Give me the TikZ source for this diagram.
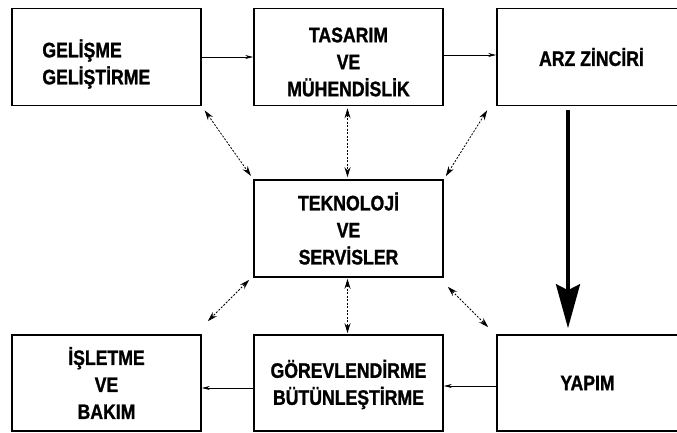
\documentclass[tikz,border=0pt]{standalone}
\usepackage{fontspec}
\setmainfont[FakeStretch = 0.84, BoldFeatures = {FakeBold = 1.2}]{Liberation Sans}
\usetikzlibrary{arrows.meta}
\tikzset{box/.style = {draw, line width = 1.6pt, minimum width = 189pt, minimum height = 97pt, inner sep = 0}}
\tikzset{txt/.style = {align = center, inner sep = 0, font = \bfseries\fontsize{21}{27}\selectfont}}
\tikzset{flow/.style = {line width = 0.7pt, -{Stealth[length = 8pt, width = 4pt]}}}
\tikzset{link/.style = {line width = 0.8pt, dash pattern = on 2pt off 1.5pt,
    {Stealth[length = 10pt, width = 6pt]}-{Stealth[length = 10pt, width = 6pt]}}}
\tikzset{supply/.style = {line width = 3.5pt, -{Stealth[length = 44pt, width = 24pt, inset = 6pt]}}}

\begin{document}
\begin{tikzpicture}[x = 1pt, y = -1pt]
    \useasboundingbox (0, 0) rectangle (677, 433);
    \clip (0, 0) rectangle (677, 433);

    \node [box, label = {[txt, align = left, anchor = west, xshift = 31pt, yshift = -7pt]west:{GELİŞME\\GELİŞTİRME}}] (gelisme) at (106.5, 57) {};
    \node [box, label = {[txt, yshift = -5pt]center:{TASARIM\\VE\\MÜHENDİSLİK}}] (tasarim) at (348.5, 57) {};
    \node [box, label = {[txt]center:{ARZ ZİNCİRİ}}] (arz) at (591.5, 57) {};

    \node [box, label = {[txt]center:{TEKNOLOJİ\\VE\\SERVİSLER}}] (teknoloji) at (348.5, 228.5) {};

    \node [box, minimum height = 96pt, label = {[txt]center:{İŞLETME\\VE\\BAKIM}}] (isletme) at (106.5, 383) {};
    \node [box, minimum height = 96pt, label = {[txt, yshift = -1.5pt]center:{GÖREVLENDİRME\\BÜTÜNLEŞTİRME}}] (gorev) at (348.5, 383) {};
    \node [box, minimum height = 96pt, label = {[txt, xshift = -4pt]center:{YAPIM}}] (yapim) at (591.5, 383) {};

    \draw [flow] (gelisme) -- (tasarim);
    \draw [flow] ([yshift = 2pt]tasarim.east) -- ([yshift = 2pt]arz.west);
    \draw [flow] ([yshift = -3pt]yapim.west) -- ([yshift = -3pt]gorev.west -| gorev.east);
    \draw [flow] ([yshift = -5pt]gorev.west) -- ([yshift = -5pt]gorev.west -| isletme.east);

    \draw [supply, shorten < = 4pt, shorten > = 6pt] ([xshift = -23.5pt]arz.south) -- ([xshift = -23.5pt]yapim.north);

    \draw [link, shorten < = 5pt, shorten > = 4pt] (gelisme.south east) -- (teknoloji.north west);
    \draw [link, shorten < = 2pt, shorten > = 2pt] ([xshift = -1pt]tasarim.south) -- ([xshift = -1pt]teknoloji.north);
    \draw [link] ([xshift = -9pt, yshift = -4pt]arz.south west) -- ([xshift = 2pt, yshift = 3pt]teknoloji.north east);
    \draw [link] ([xshift = -4pt, yshift = -2pt]teknoloji.south west) -- ([xshift = 6pt, yshift = 13pt]isletme.north east);
    \draw [link, shorten < = 1pt, shorten > = 1pt] ([xshift = -1pt]teknoloji.south) -- ([xshift = -1pt]gorev.north);
    \draw [link] ([xshift = 4pt, yshift = -9pt]teknoloji.south east) -- ([xshift = -8pt, yshift = 7pt]yapim.north west);
\end{tikzpicture}
\end{document}
